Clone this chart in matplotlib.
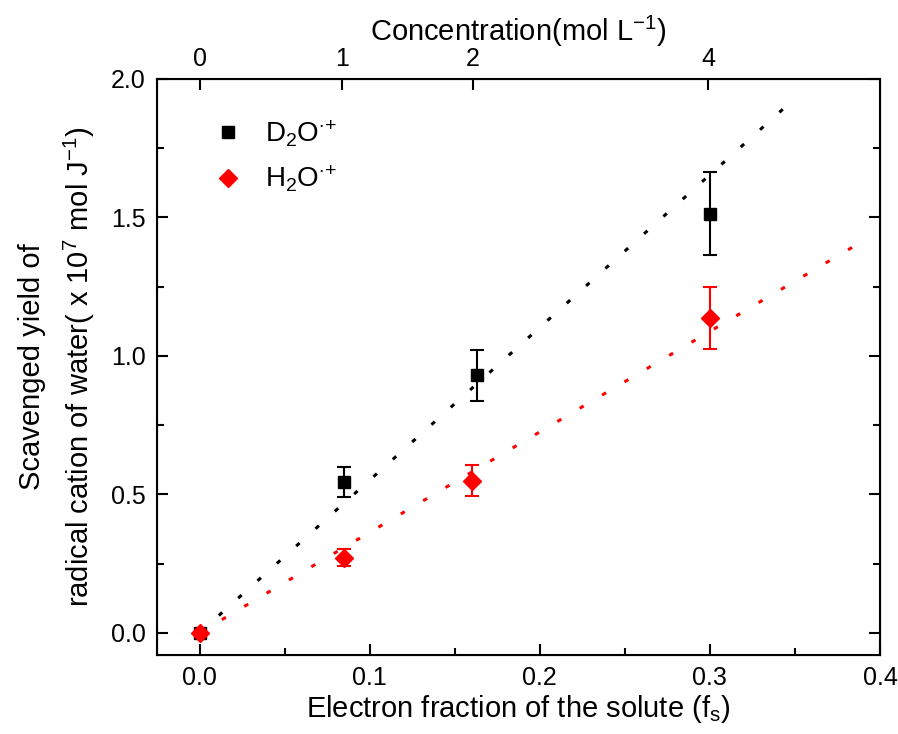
import matplotlib
matplotlib.use("Agg")
import matplotlib.pyplot as plt
from matplotlib.ticker import MultipleLocator

plt.rcParams['font.family'] = ['Liberation Sans', 'DejaVu Sans']
plt.rcParams['mathtext.fontset'] = 'custom'
plt.rcParams['mathtext.rm'] = 'Liberation Sans'
plt.rcParams['mathtext.it'] = 'Liberation Sans'

# veri
d2o_x = [0.0, 0.085, 0.163, 0.30]
d2o_y = [0.0, 0.545, 0.930, 1.513]
d2o_err = [0.0, 0.055, 0.092, 0.150]

h2o_x = [0.0, 0.085, 0.160, 0.30]
h2o_y = [0.0, 0.272, 0.550, 1.137]
h2o_err = [0.0, 0.030, 0.055, 0.113]

# fit doğruları (uç noktalar)
d2o_fit_x = [0.0, 0.35]
d2o_fit_y = [0.0, 1.93]
h2o_fit_x = [0.0, 0.39]
h2o_fit_y = [0.0, 1.415]

# üst eksen: konsantrasyon
conc_pos = [0.0, 0.084, 0.1606, 0.299]
conc_labels = ['0', '1', '2', '4']

fig = plt.figure(figsize=(8.98, 7.34), dpi=100)
ax = fig.add_axes([157/898, 1 - 655/734, (880-157)/898, (655-79)/734])

ax.plot(d2o_fit_x, d2o_fit_y, color='black', lw=2.2, linestyle=(0, (1.5, 7)))
ax.plot(h2o_fit_x, h2o_fit_y, color='red', lw=2.2, linestyle=(0, (1.5, 7)))

ax.errorbar(d2o_x, d2o_y, yerr=d2o_err, fmt='none', ecolor='black',
            capsize=5, capthick=1.5, elinewidth=1.5, zorder=3)
ax.errorbar(h2o_x, h2o_y, yerr=h2o_err, fmt='none', ecolor='red',
            capsize=5, capthick=1.5, elinewidth=1.5, zorder=4)
ax.plot(d2o_x, d2o_y, 's', color='black', ms=9, label=r'D$_2$O$^{\cdot\!+}$', zorder=5)
ax.plot(h2o_x, h2o_y, 'D', color='red', ms=9, label=r'H$_2$O$^{\cdot\!+}$', zorder=6)

ax.set_xlim(-0.025, 0.40)
ax.set_ylim(-0.08, 2.0)
ax.xaxis.set_major_locator(MultipleLocator(0.1))
ax.xaxis.set_minor_locator(MultipleLocator(0.05))
ax.yaxis.set_major_locator(MultipleLocator(0.5))
ax.yaxis.set_minor_locator(MultipleLocator(0.25))
ax.tick_params(which='both', direction='in', right=True, labelsize=18, width=1.5)
ax.tick_params(which='major', length=8, pad=8)
ax.tick_params(which='minor', length=5)
for s in ax.spines.values():
    s.set_linewidth(1.5)

ax.set_xlabel('Electron fraction of the solute (f$_\\mathregular{s}$)', fontsize=21, labelpad=2)
ax.set_ylabel('Scavenged yield of\nradical cation of water( x 10$^\\mathregular{7}$ mol J$^\\mathregular{-1}$)',
              fontsize=21, labelpad=10, linespacing=1.6)

ax2 = ax.twiny()
ax2.set_xlim(ax.get_xlim())
ax2.set_xticks(conc_pos)
ax2.set_xticklabels(conc_labels)
ax2.tick_params(direction='in', length=8, width=1.5, labelsize=18, pad=6)
ax2.set_xlabel('Concentration(mol L$^\\mathregular{-1}$)', fontsize=21, labelpad=4)

leg = ax.legend(loc='upper left', bbox_to_anchor=(0.045, 0.975), frameon=False, fontsize=20,
                handletextpad=0.8, labelspacing=0.55, handlelength=1.0)

fig.savefig('out.png', dpi=100)
